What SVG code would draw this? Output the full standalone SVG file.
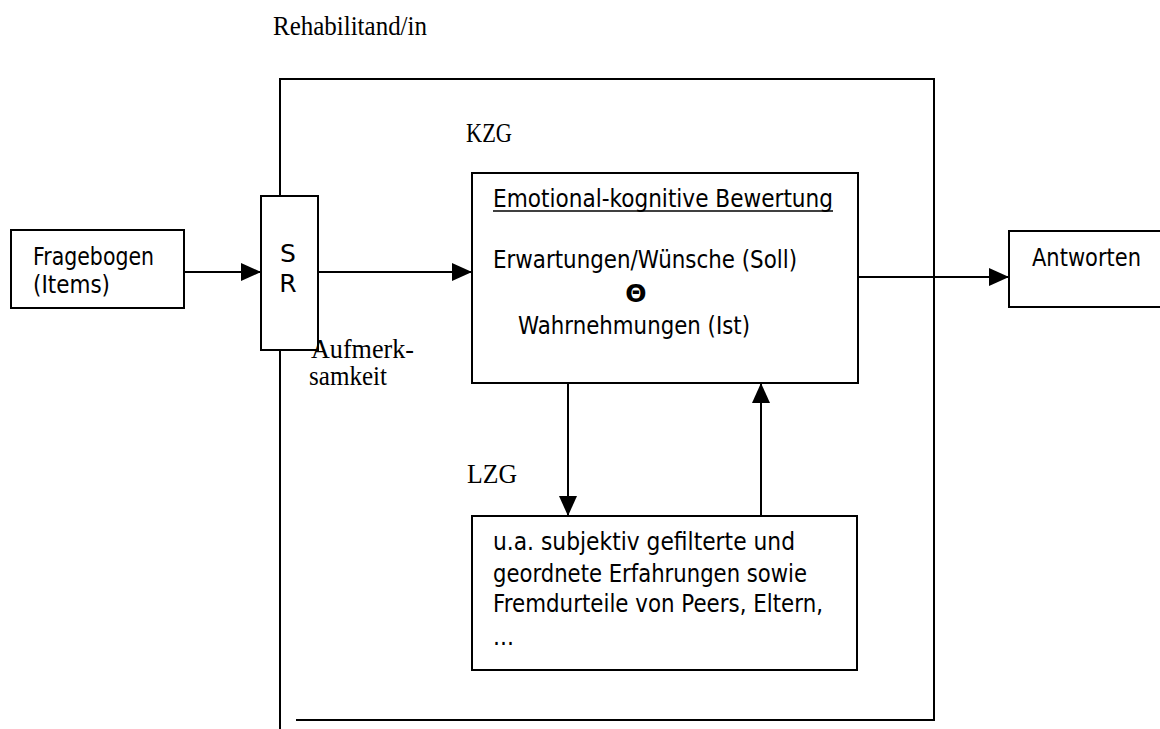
<svg xmlns="http://www.w3.org/2000/svg" width="1160" height="729" viewBox="0 0 1160 729">
<defs>
<marker id="arr" markerUnits="userSpaceOnUse" markerWidth="20" markerHeight="18" refX="20" refY="9" orient="auto">
<path d="M0,0 L20,9 L0,18 z" fill="#000"/>
</marker>
<style>
.box{fill:#fff;stroke:#000;stroke-width:2}
.ln{fill:none;stroke:#000;stroke-width:2}
.sans{font-family:"DejaVu Sans","Liberation Sans",sans-serif;font-size:25px;fill:#000}
.serif{font-family:"Liberation Serif","Times New Roman",serif;font-size:27px;fill:#000}
</style>
</defs>
<rect width="1160" height="729" fill="#fff"/>
<g id="frame">
<path class="ln" d="M280,196 V79 H934 V720 H296"/>
<path class="ln" d="M280,350 V729"/>
</g>
<g id="label-rehabilitand"><text class="serif" x="273" y="35" textLength="154" lengthAdjust="spacingAndGlyphs">Rehabilitand/in</text></g>
<g id="label-kzg"><text class="serif" x="466" y="142" textLength="46" lengthAdjust="spacingAndGlyphs">KZG</text></g>
<g id="label-lzg"><text class="serif" x="467" y="483" textLength="50" lengthAdjust="spacingAndGlyphs">LZG</text></g>
<g id="connectors">
<line class="ln" x1="184" y1="272" x2="261" y2="272" marker-end="url(#arr)"/>
<line class="ln" x1="318" y1="272" x2="472" y2="272" marker-end="url(#arr)"/>
<line class="ln" x1="858" y1="277" x2="1009" y2="277" marker-end="url(#arr)"/>
<line class="ln" x1="568" y1="383" x2="568" y2="516" marker-end="url(#arr)"/>
<line class="ln" x1="761" y1="516" x2="761" y2="383" marker-end="url(#arr)"/>
</g>
<g id="fragebogen">
<rect class="box" x="11" y="230" width="173" height="78"/>
<text class="sans" x="33" y="265" textLength="121" lengthAdjust="spacingAndGlyphs">Fragebogen</text>
<text class="sans" x="33" y="293" textLength="77" lengthAdjust="spacingAndGlyphs">(Items)</text>
</g>
<g id="sr">
<rect class="box" x="261" y="196" width="57" height="154"/>
<text class="sans" x="288" y="262" text-anchor="middle">S</text>
<text class="sans" x="288" y="292" text-anchor="middle">R</text>
</g>
<g id="aufmerksamkeit">
<text class="serif" x="311" y="358" textLength="103" lengthAdjust="spacingAndGlyphs">Aufmerk-</text>
<text class="serif" x="309" y="385" textLength="78" lengthAdjust="spacingAndGlyphs">samkeit</text>
</g>
<g id="kzg">
<rect class="box" x="472" y="173" width="386" height="210"/>
<text class="sans" x="493" y="207" textLength="340" lengthAdjust="spacingAndGlyphs">Emotional-kognitive Bewertung</text>
<line x1="493" y1="211" x2="833" y2="211" stroke="#000" stroke-width="1.5"/>
<text class="sans" x="493" y="268" textLength="304" lengthAdjust="spacingAndGlyphs">Erwartungen/Wünsche (Soll)</text>
<text class="sans" x="636" y="302" text-anchor="middle" font-weight="bold" font-size="22">Θ</text>
<text class="sans" x="518" y="334" textLength="232" lengthAdjust="spacingAndGlyphs">Wahrnehmungen (Ist)</text>
</g>
<g id="lzg">
<rect class="box" x="472" y="516" width="385" height="154"/>
<text class="sans" x="493" y="550" textLength="302" lengthAdjust="spacingAndGlyphs">u.a. subjektiv gefilterte und</text>
<text class="sans" x="493" y="582" textLength="314" lengthAdjust="spacingAndGlyphs">geordnete Erfahrungen sowie</text>
<text class="sans" x="493" y="612" textLength="330" lengthAdjust="spacingAndGlyphs">Fremdurteile von Peers, Eltern,</text>
<text class="sans" x="493" y="645" textLength="21" lengthAdjust="spacingAndGlyphs">...</text>
</g>
<g id="antworten">
<rect class="box" x="1009" y="231" width="160" height="76"/>
<text class="sans" x="1032" y="266" textLength="109" lengthAdjust="spacingAndGlyphs">Antworten</text>
</g>
</svg>
